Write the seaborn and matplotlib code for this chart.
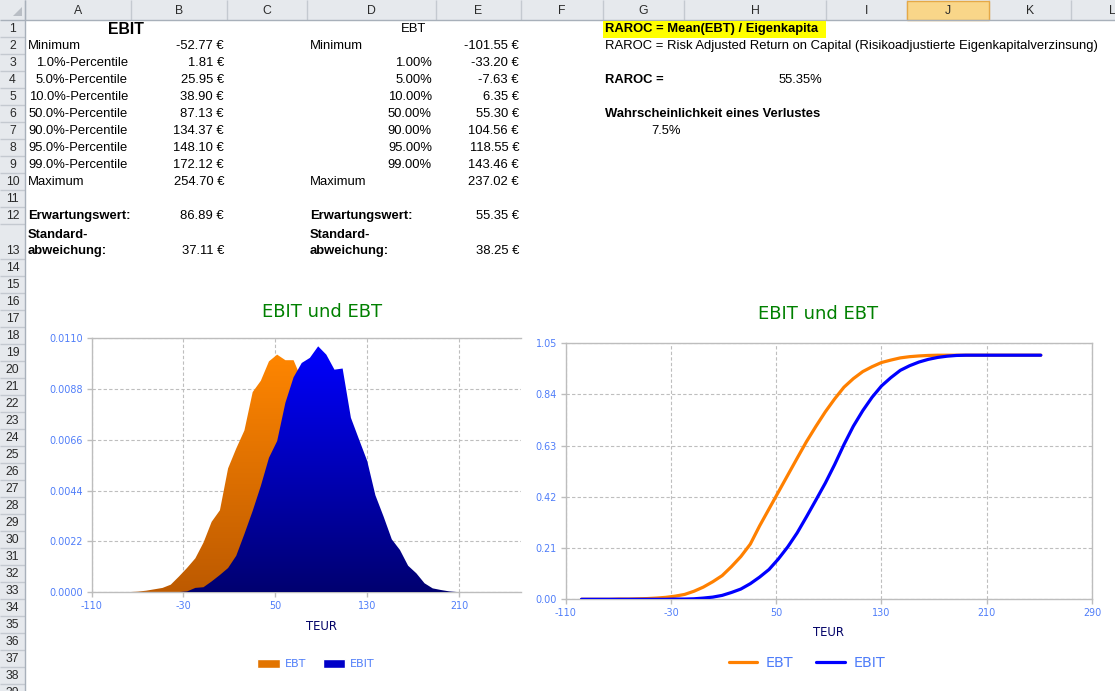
import numpy as np
import pandas as pd
import matplotlib
matplotlib.use("Agg")
import matplotlib.pyplot as plt
import seaborn as sns
from matplotlib.patches import Rectangle, Polygon, Patch
from matplotlib.lines import Line2D
from matplotlib.colors import LinearSegmentedColormap

# ---------------- data ----------------
# statistics table
ebit_labels = ["Minimum", "1.0%-Percentile", "5.0%-Percentile", "10.0%-Percentile",
               "50.0%-Percentile", "90.0%-Percentile", "95.0%-Percentile",
               "99.0%-Percentile", "Maximum"]
ebit_values = [-52.77, 1.81, 25.95, 38.90, 87.13, 134.37, 148.10, 172.12, 254.70]
ebt_labels = ["Minimum", "1.00%", "5.00%", "10.00%", "50.00%", "90.00%", "95.00%",
              "99.00%", "Maximum"]
ebt_values = [-101.55, -33.20, -7.63, 6.35, 55.30, 104.56, 118.55, 143.46, 237.02]
ebit_mean, ebit_std = 86.89, 37.11
ebt_mean, ebt_std = 55.35, 38.25
raroc_pct = 55.35
loss_prob_pct = 7.5

# class centres (TEUR)
teur = [-98.0, -90.9, -83.7, -76.6, -69.5, -62.4, -55.2, -48.1, -41.0, -33.9,
        -26.7, -19.6, -12.5, -5.4, 1.8, 8.9, 16.0, 23.1, 30.3, 37.4,
        44.5, 51.6, 58.8, 65.9, 73.0, 80.1, 87.3, 94.4, 101.5, 108.6,
        115.8, 122.9, 130.0, 137.1, 144.3, 151.4, 158.5, 165.6, 172.8, 179.9,
        187.0, 194.1, 201.3, 208.4, 215.5, 222.6, 229.8, 236.9, 244.0, 251.1]

# density
ebt_density = [0.0, 0.0, 0.0, 0.00001, 0.00003, 0.00007, 0.00013, 0.00019, 0.00033, 0.00068,
               0.00106, 0.00147, 0.00215, 0.00305, 0.00355, 0.00536, 0.00622, 0.00700, 0.00866, 0.00915,
               0.00999, 0.01028, 0.01004, 0.01004, 0.00920, 0.00850, 0.00750, 0.00640, 0.00530, 0.00420,
               0.00330, 0.00240, 0.00160, 0.00110, 0.00070, 0.00040, 0.00022, 0.00012, 0.00006, 0.00003,
               0.00002, 0.00001, 0.0, 0.0, 0.0, 0.0, 0.0, 0.0, 0.0, 0.0]
ebit_density = [0.0, 0.0, 0.0, 0.0, 0.0, 0.0, 0.0, 0.0, 0.0, 0.00001,
                0.00004, 0.00019, 0.00022, 0.00047, 0.00075, 0.00105, 0.00158, 0.00252, 0.00352, 0.00460,
                0.00582, 0.00654, 0.00820, 0.00930, 0.00992, 0.01014, 0.01064, 0.01028, 0.00963, 0.00968,
                0.00755, 0.00661, 0.00568, 0.00420, 0.00327, 0.00229, 0.00183, 0.00115, 0.00082, 0.00039,
                0.00017, 0.00010, 0.00004, 0.00001, 0.0, 0.0, 0.0, 0.0, 0.0, 0.0]

# cumulative distribution
ebt_cdf = [0.0, 0.0, 0.0, 0.0, 0.001, 0.001, 0.002, 0.003, 0.005, 0.008,
           0.013, 0.020, 0.033, 0.050, 0.072, 0.097, 0.134, 0.175, 0.226, 0.301,
           0.370, 0.439, 0.509, 0.578, 0.646, 0.708, 0.768, 0.821, 0.869, 0.904,
           0.933, 0.953, 0.970, 0.980, 0.989, 0.994, 0.997, 0.999, 1.0, 1.0,
           1.0, 1.0, 1.0, 1.0, 1.0, 1.0, 1.0, 1.0, 1.0, 1.0]
ebit_cdf = [0.0, 0.0, 0.0, 0.0, 0.0, 0.0, 0.0, 0.0, 0.0, 0.0,
            0.001, 0.001, 0.002, 0.005, 0.009, 0.016, 0.028, 0.042, 0.064, 0.091,
            0.122, 0.165, 0.215, 0.272, 0.338, 0.406, 0.476, 0.552, 0.634, 0.709,
            0.773, 0.828, 0.874, 0.908, 0.938, 0.957, 0.972, 0.983, 0.991, 0.996,
            0.999, 1.0, 1.0, 1.0, 1.0, 1.0, 1.0, 1.0, 1.0, 1.0]

x_ticks = [-110, -30, 50, 130, 210, 290]
dens_ticks = [0.0, 0.0022, 0.0044, 0.0066, 0.0088, 0.0110]
cdf_ticks = [0.0, 0.21, 0.42, 0.63, 0.84, 1.05]

col_names = list("ABCDEFGHIJKL")

df = pd.DataFrame({"TEUR": teur, "EBT_d": ebt_density, "EBIT_d": ebit_density,
                   "EBT_c": ebt_cdf, "EBIT_c": ebit_cdf})

# ---------------- style ----------------
sns.set_theme(style="white")
plt.rcParams["font.family"] = ["Liberation Sans", "DejaVu Sans"]

W, H = 1115, 691
fig = plt.figure(figsize=(W / 100, H / 100), dpi=100)
fig.patch.set_facecolor("white")

bg = fig.add_axes([0, 0, 1, 1])
bg.set_xlim(0, W)
bg.set_ylim(H, 0)
bg.axis("off")

# ---------------- spreadsheet frame ----------------
col_edges = [25, 131, 227, 307, 436, 521, 603, 684, 826, 907, 989, 1071, 1153]
hdr_fill = "#E6E9ED"
hdr_line = "#C4C9D0"
hdr_border = "#A8B0BA"
hdr_text = "#2A2A2A"


def row_span(n):
    if n <= 12:
        t = 20 + 17 * (n - 1)
        return t, t + 17
    if n == 13:
        return 224, 259
    t = 259 + 17 * (n - 14)
    return t, t + 17


bg.add_patch(Rectangle((0, 0), W, 20, fc=hdr_fill, ec="none", zorder=1))
bg.add_patch(Rectangle((0, 0), 25, H, fc=hdr_fill, ec="none", zorder=1))
jx0, jx1 = col_edges[9], col_edges[10]
bg.add_patch(Rectangle((jx0, 0.5), jx1 - jx0, 19.5, fc="#F9D689", ec="#E5A947", lw=1, zorder=2))
for e in col_edges:
    bg.vlines(e, 0, 20, color=hdr_line, lw=1, zorder=1.5)
for i, name in enumerate(col_names):
    bg.text((col_edges[i] + col_edges[i + 1]) / 2, 10.5, name, ha="center", va="center",
            fontsize=8.8, color=hdr_text, zorder=3)
bg.hlines(20, 0, W, color=hdr_border, lw=1, zorder=2)
bg.vlines(25, 0, H, color=hdr_border, lw=1, zorder=2)
bg.add_patch(Polygon([(22, 7), (22, 16), (13, 16)], closed=True, fc="#B9BEC5", ec="none", zorder=3))

for n in range(1, 40):
    t, b = row_span(n)
    bg.hlines(b, 0, 25, color=hdr_line, lw=1, zorder=1.5)
    yc = (t + b) / 2 if n != 13 else b - 8.5
    bg.text(12.5, yc + 0.5, str(n), ha="center", va="center", fontsize=8.8, color=hdr_text, zorder=3)

# ---------------- cell texts ----------------
FS = 9.4


def rc(n):
    t, b = row_span(n)
    return (t + b) / 2 + 0.5


def cell(x, n, s, ha="left", bold=False, fs=FS, y=None):
    bg.text(x, rc(n) if y is None else y, s, ha=ha, va="center", fontsize=fs,
            fontweight="bold" if bold else "normal", color="black", zorder=4)


def eur(v):
    return f"{v:.2f} €"


cell(126, 1, "EBIT", ha="center", bold=True, fs=11.4)
cell(414, 1, "EBT", ha="center")
for i, (la, va_, lb, vb) in enumerate(zip(ebit_labels, ebit_values, ebt_labels, ebt_values)):
    n = 2 + i
    if la in ("Minimum", "Maximum"):
        cell(28, n, la)
    else:
        cell(128, n, la, ha="right")
    cell(224, n, eur(va_), ha="right")
    if lb in ("Minimum", "Maximum"):
        cell(310, n, lb)
    else:
        cell(432, n, lb, ha="right")
    cell(519, n, eur(vb), ha="right")

cell(28, 12, "Erwartungswert:", bold=True)
cell(224, 12, eur(ebit_mean), ha="right")
cell(310, 12, "Erwartungswert:", bold=True)
cell(519, 12, eur(ebt_mean), ha="right")
for x0 in (28, 310):
    cell(x0, 13, "Standard-", bold=True, y=234.5)
    cell(x0, 13, "abweichung:", bold=True, y=251)
cell(224, 13, eur(ebit_std), ha="right", y=251)
cell(519, 13, eur(ebt_std), ha="right", y=251)

bg.add_patch(Rectangle((603, 20.5), 223, 17, fc="#FFFF00", ec="none", zorder=3))
cell(605, 1, "RAROC = Mean(EBT) / Eigenkapita", bold=True)
cell(605, 2, "RAROC = Risk Adjusted Return on Capital (Risikoadjustierte Eigenkapitalverzinsung)")
cell(605, 4, "RAROC =", bold=True)
cell(822, 4, f"{raroc_pct:.2f}%", ha="right")
cell(605, 6, "Wahrscheinlichkeit eines Verlustes", bold=True)
cell(681, 7, f"{loss_prob_pct:.1f}%", ha="right")

# ---------------- charts ----------------
spine_c = "#BDBDBD"
grid_c = "#BEBEBE"
tick_c = "#4F7DF9"
CF = "DejaVu Sans"


def style_chart(ax, xlim, ylim, xt, yt, yfmt, right_spine):
    ax.set_facecolor("white")
    ax.set_xlim(*xlim)
    ax.set_ylim(*ylim)
    ax.set_xticks(xt)
    ax.set_yticks(yt)
    ax.set_xticklabels([f"{v:g}" for v in xt])
    ax.set_yticklabels([yfmt.format(v) for v in yt])
    ax.tick_params(axis="both", direction="out", length=3.5, width=1, color=spine_c,
                   labelcolor=tick_c, labelsize=6.9, pad=2.8, labelfontfamily=CF,
                   bottom=True, left=True)
    for s in ax.spines.values():
        s.set_color(spine_c)
        s.set_linewidth(1)
        s.set_visible(True)
    ax.spines["right"].set_visible(right_spine)
    ax.grid(True, color=grid_c, linestyle=(0, (3, 2)), linewidth=0.8)
    ax.set_axisbelow(True)
    ax.set_xlabel("")
    ax.set_ylabel("")


def gradient_area(ax, x, y, top, bottom, z):
    coll = ax.fill_between(x, y, 0, facecolor="none", edgecolor="none", zorder=z)
    cmap = LinearSegmentedColormap.from_list("g", [bottom, top])
    grad = np.linspace(0, 1, 256).reshape(-1, 1)
    im = ax.imshow(grad, extent=[min(x), max(x), 0, max(y)], origin="lower",
                   aspect="auto", cmap=cmap, zorder=z, interpolation="bilinear")
    im.set_clip_path(coll.get_paths()[0], transform=ax.transData)


# left: density chart
ax1 = fig.add_axes([91.5 / W, 1 - 592.3 / H, 429.2 / W, 254.3 / H])
gradient_area(ax1, df["TEUR"].values, df["EBT_d"].values, "#FF8600", "#BD5A00", 2)
gradient_area(ax1, df["TEUR"].values, df["EBIT_d"].values, "#0000FF", "#000070", 3)
style_chart(ax1, (-110, 263.6), (0, 0.0110), x_ticks[:5], dens_ticks, "{:.4f}", False)

# right: cumulative chart
ax2 = fig.add_axes([565.7 / W, 1 - 599.3 / H, 526.3 / W, 256.3 / H])
sns.lineplot(data=df, x="TEUR", y="EBT_c", color="#FF8000", lw=2.3, ax=ax2, zorder=2)
sns.lineplot(data=df, x="TEUR", y="EBIT_c", color="#0000FF", lw=2.3, ax=ax2, zorder=3)
style_chart(ax2, (-110, 290), (0, 1.05), x_ticks, cdf_ticks, "{:.2f}", True)

# titles and axis labels
for cx, cy in ((322, 312), (818, 314)):
    fig.text(cx / W, 1 - cy / H, "EBIT und EBT", ha="center", va="center",
             color="#008000", fontsize=13, family=CF)
fig.text(322 / W, 1 - 627 / H, "TEUR", ha="center", va="center", color="#000066",
         fontsize=8.4, family=CF)
fig.text(829 / W, 1 - 633 / H, "TEUR", ha="center", va="center", color="#000066",
         fontsize=8.4, family=CF)

# legends
fig.legend([Patch(facecolor="#E27400"), Patch(facecolor="#0000C8")], ["EBT", "EBIT"],
           loc="center", bbox_to_anchor=(316 / W, 1 - 664 / H), ncol=2, frameon=False,
           prop={"family": CF, "size": 8}, labelcolor=tick_c, handlelength=2.0,
           handleheight=0.9, handletextpad=0.45, columnspacing=1.5)
fig.legend([Line2D([], [], color="#FF8000", lw=2.3), Line2D([], [], color="#0000FF", lw=2.3)],
           ["EBT", "EBIT"], loc="center", bbox_to_anchor=(807 / W, 1 - 663 / H), ncol=2,
           frameon=False, prop={"family": CF, "size": 10.4}, labelcolor=tick_c,
           handlelength=1.95, handletextpad=0.6, columnspacing=1.6)

fig.savefig("out.png", dpi=100, facecolor="white")
